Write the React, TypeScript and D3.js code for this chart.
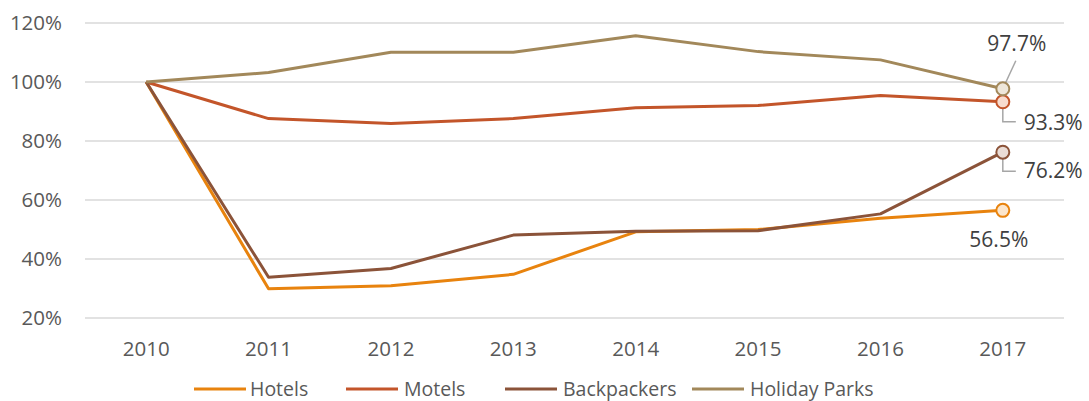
import React from "react";
import * as d3 from "d3";

const years = ["2010", "2011", "2012", "2013", "2014", "2015", "2016", "2017"];
const hotels = [100, 29.9, 30.9, 34.8, 49.2, 50.0, 53.8, 56.5];
const motels = [100, 87.6, 85.9, 87.6, 91.3, 92.0, 95.4, 93.3];
const backpackers = [100, 33.8, 36.8, 48.1, 49.4, 49.6, 55.3, 76.2];
const holidayParks = [100, 103.2, 110.1, 110.1, 115.7, 110.3, 107.5, 97.7];
const yTicks = [20, 40, 60, 80, 100, 120];

const series = [
  { name: "Hotels", values: hotels, color: "#E8830E", fill: "#FCE6CC" },
  { name: "Motels", values: motels, color: "#C3552A", fill: "#F8DCCE" },
  { name: "Backpackers", values: backpackers, color: "#8B5339", fill: "#EADCD5" },
  { name: "Holiday Parks", values: holidayParks, color: "#A2885A", fill: "#EEE7DA" },
];

const W = 1089;
const H = 401;
const FONT = "'Open Sans', sans-serif";

export default function App() {
  const x = d3.scaleBand<string>().domain(years).range([85, 1064]);
  const y = d3.scaleLinear().domain([20, 120]).range([318, 23]);
  const cx = (i: number) => (x(years[i]) as number) + x.bandwidth() / 2;
  const line = d3
    .line<number>()
    .x((_, i) => cx(i))
    .y((d) => y(d));
  const last = years.length - 1;
  const lx = cx(last);

  const legendItems = [
    { lineX: 194, textX: 250 },
    { lineX: 346, textX: 404 },
    { lineX: 505, textX: 563 },
    { lineX: 692, textX: 750 },
  ];

  return (
    <svg width={W} height={H} style={{ position: "absolute", left: 0, top: 0, background: "#fff" }}>
      {yTicks.map((t) => (
        <g key={t}>
          <line x1={85} x2={1064} y1={y(t)} y2={y(t)} stroke="#D9D9D9" strokeWidth={1.5} />
          <text x={62} y={y(t)} dy="0.35em" textAnchor="end" fontFamily={FONT} fontSize={20.5} fill="#595959">
            {t}%
          </text>
        </g>
      ))}
      {years.map((yr, i) => (
        <text key={yr} x={cx(i)} y={356} textAnchor="middle" fontFamily={FONT} fontSize={20.5} fill="#595959">
          {yr}
        </text>
      ))}
      {series.map((s) => (
        <path key={s.name} d={line(s.values) || ""} fill="none" stroke={s.color} strokeWidth={3} strokeLinejoin="round" />
      ))}
      <g stroke="#A6A6A6" strokeWidth={1.5} fill="none">
        <polyline points={`${lx},${y(holidayParks[last])} ${lx + 13},${y(holidayParks[last]) - 28}`} />
        <polyline points={`${lx},${y(motels[last])} ${lx},${y(motels[last]) + 20} ${lx + 13},${y(motels[last]) + 20}`} />
        <polyline points={`${lx},${y(backpackers[last])} ${lx},${y(backpackers[last]) + 19} ${lx + 13},${y(backpackers[last]) + 19}`} />
      </g>
      {series.map((s) => (
        <circle key={s.name} cx={lx} cy={y(s.values[last])} r={6.5} fill={s.fill} stroke={s.color} strokeWidth={2} />
      ))}
      <g fontFamily={FONT} fontSize={21} fill="#404040">
        <text x={lx + 14} y={y(holidayParks[last]) - 38} textAnchor="middle">{holidayParks[last].toFixed(1)}%</text>
        <text x={lx + 21} y={y(motels[last]) + 28}>{motels[last].toFixed(1)}%</text>
        <text x={lx + 21} y={y(backpackers[last]) + 26}>{backpackers[last].toFixed(1)}%</text>
        <text x={lx - 4} y={y(hotels[last]) + 37} textAnchor="middle">{hotels[last].toFixed(1)}%</text>
      </g>
      {series.map((s, i) => (
        <g key={s.name}>
          <line x1={legendItems[i].lineX} x2={legendItems[i].lineX + 52} y1={389} y2={389} stroke={s.color} strokeWidth={3} />
          <text x={legendItems[i].textX} y={389} dy="0.35em" fontFamily={FONT} fontSize={19.5} fill="#595959">
            {s.name}
          </text>
        </g>
      ))}
    </svg>
  );
}
